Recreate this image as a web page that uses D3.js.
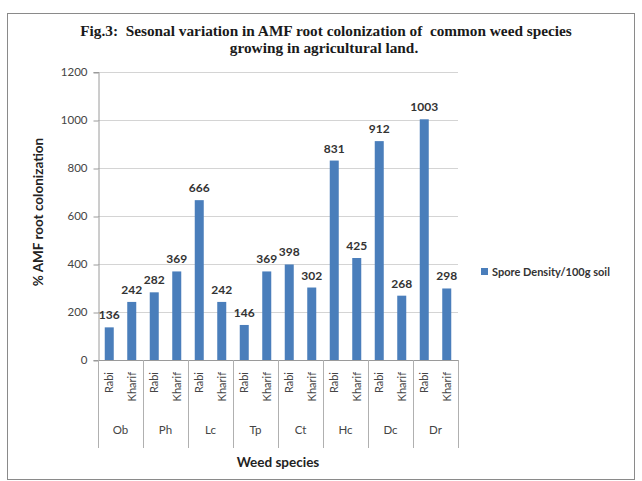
<!DOCTYPE html>
<html>
<head>
<meta charset="utf-8">
<script src="https://cdn.jsdelivr.net/npm/d3@7"></script>
<style>
  body { margin: 0; background: #fff; }
  svg { display: block; }
</style>
</head>
<body>
<svg id="chart" width="642" height="481"></svg>
<script>
const species = ["Ob", "Ph", "Lc", "Tp", "Ct", "Hc", "Dc", "Dr"]
const seasons = ["Rabi", "Kharif"]
const rabi = [136, 282, 666, 146, 398, 831, 912, 1003]
const kharif = [242, 369, 242, 369, 302, 425, 268, 298]
const yTicks = [0, 200, 400, 600, 800, 1000, 1200]
const seriesName = "Spore Density/100g soil"

const rows = []
species.forEach((s, i) => {
    rows.push({ sp: s, season: "Rabi", key: s + "-Rabi", value: rabi[i] })
    rows.push({ sp: s, season: "Kharif", key: s + "-Kharif", value: kharif[i] })
})

const svg = d3.select("#chart")
const plotLeft = 98, plotRight = 458, plotTop = 72, plotBottom = 360

// outer frame
svg.append("rect")
    .attr("x", 7.5).attr("y", 13.5)
    .attr("width", 627).attr("height", 466)
    .attr("fill", "none").attr("stroke", "#8a8a8a").attr("stroke-width", 1)

// title
const title = svg.append("text")
    .attr("text-anchor", "middle")
    .style("white-space", "pre")
    .style("font-family", "'Liberation Serif', 'Times New Roman', serif")
    .style("font-weight", "bold")
    .style("font-size", "15.3px")
    .attr("fill", "#1a1a1a")
title.append("tspan").attr("x", 326).attr("y", 36).text("Fig.3:  Sesonal variation in AMF root colonization of  common weed species")
title.append("tspan").attr("x", 324).attr("y", 53).text("growing in agricultural land.")

const y = d3.scaleLinear().domain([0, 1200]).range([plotBottom, plotTop])
const xGroup = d3.scaleBand().domain(species).range([plotLeft, plotRight])
const x = d3.scaleBand().domain(rows.map(d => d.key)).range([plotLeft, plotRight])

// gridlines
svg.append("g")
    .selectAll("line")
    .data(yTicks.filter(t => t > 0))
    .join("line")
    .attr("x1", plotLeft).attr("x2", plotRight)
    .attr("y1", d => Math.round(y(d)) + 0.5).attr("y2", d => Math.round(y(d)) + 0.5)
    .attr("stroke", "#d4d4d4")

// y axis
const yAxis = svg.append("g")
    .attr("transform", `translate(${plotLeft + 0.5},0)`)
    .call(d3.axisLeft(y).tickValues(yTicks).tickFormat(d3.format("d")).tickSize(5).tickPadding(6))
yAxis.select(".domain").attr("stroke", "#9a9a9a")
yAxis.selectAll(".tick line").attr("stroke", "#9a9a9a")
    .attr("transform", "translate(0,0.5)")
yAxis.selectAll("text")
    .style("font-family", "Lato, sans-serif")
    .style("font-size", "11.5px")
    .attr("fill", "#444")

// bars
svg.append("g")
    .selectAll("rect")
    .data(rows)
    .join("rect")
    .attr("x", d => x(d.key) + x.bandwidth() / 2 - 4.5)
    .attr("width", 9)
    .attr("y", d => y(d.value))
    .attr("height", d => plotBottom - y(d.value))
    .attr("fill", "#4a7ebb")

// value labels
svg.append("g")
    .selectAll("text")
    .data(rows)
    .join("text")
    .attr("x", d => x(d.key) + x.bandwidth() / 2)
    .attr("y", d => y(d.value) - 8)
    .attr("text-anchor", "middle")
    .style("font-family", "Lato, sans-serif")
    .style("font-weight", "bold")
    .style("font-size", "12px")
    .attr("fill", "#333")
    .text(d => d.value)

// x axis baseline
svg.append("line")
    .attr("x1", plotLeft).attr("x2", plotRight)
    .attr("y1", plotBottom + 0.5).attr("y2", plotBottom + 0.5)
    .attr("stroke", "#9a9a9a")

// group separators
svg.append("g")
    .selectAll("line")
    .data(species.concat(["end"]))
    .join("line")
    .attr("x1", (d, i) => Math.round(i < species.length ? xGroup(d) : plotRight) + 0.5)
    .attr("x2", (d, i) => Math.round(i < species.length ? xGroup(d) : plotRight) + 0.5)
    .attr("y1", plotBottom).attr("y2", 448)
    .attr("stroke", "#b0b0b0")

// season labels (rotated)
svg.append("g")
    .selectAll("text")
    .data(rows)
    .join("text")
    .attr("transform", d => `translate(${x(d.key) + x.bandwidth() / 2 + 4},372) rotate(-90)`)
    .attr("text-anchor", "end")
    .style("font-family", "Lato, sans-serif")
    .style("font-size", "11px")
    .attr("fill", "#444")
    .text(d => d.season)

// species labels
svg.append("g")
    .selectAll("text")
    .data(species)
    .join("text")
    .attr("x", d => xGroup(d) + xGroup.bandwidth() / 2)
    .attr("y", 434)
    .attr("text-anchor", "middle")
    .style("font-family", "Lato, sans-serif")
    .style("font-size", "11.5px")
    .attr("fill", "#444")
    .text(d => d)

// axis titles
svg.append("text")
    .attr("x", 278).attr("y", 467)
    .attr("text-anchor", "middle")
    .style("font-family", "Lato, sans-serif")
    .style("font-weight", "bold")
    .style("font-size", "13.5px")
    .attr("fill", "#222")
    .text("Weed species")

svg.append("text")
    .attr("transform", "translate(43,212) rotate(-90)")
    .attr("text-anchor", "middle")
    .style("font-family", "Lato, sans-serif")
    .style("font-weight", "bold")
    .style("font-size", "13.5px")
    .attr("fill", "#222")
    .text("% AMF root colonization")

// legend
svg.append("rect")
    .attr("x", 481).attr("y", 268)
    .attr("width", 7).attr("height", 7)
    .attr("fill", "#4a7ebb")
svg.append("text")
    .attr("x", 492).attr("y", 275.5)
    .style("font-family", "Lato, sans-serif")
    .style("font-weight", "bold")
    .style("font-size", "11px")
    .attr("fill", "#333")
    .text(seriesName)
</script>
</body>
</html>
